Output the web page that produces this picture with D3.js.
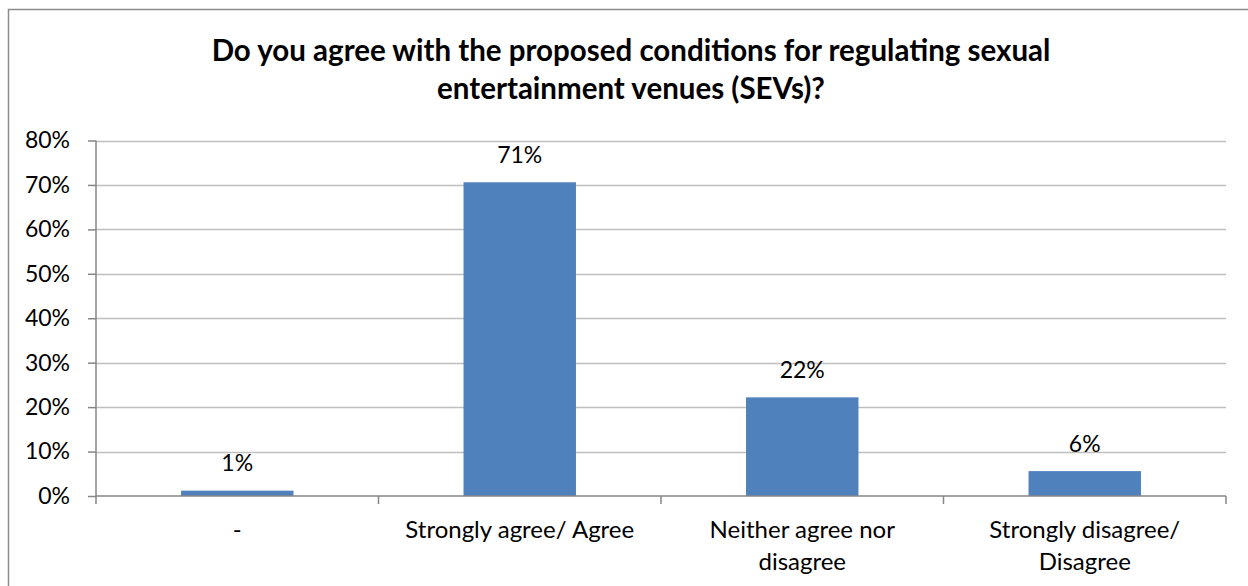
<!DOCTYPE html>
<html><head><meta charset="utf-8">
<script src="https://cdn.jsdelivr.net/npm/d3@7"></script>
<style>body{margin:0;background:#fff}svg{display:block}text{font-family:Lato,"Open Sans",sans-serif}</style>
</head><body>
<svg id="c" width="1248" height="586"></svg>
<script>
const categories = [["-"], ["Strongly agree/ Agree"], ["Neither agree nor", "disagree"], ["Strongly disagree/", "Disagree"]];
const values = [0.012, 0.706, 0.222, 0.056];
const labels = ["1%", "71%", "22%", "6%"];
const yTicks = [0, 0.1, 0.2, 0.3, 0.4, 0.5, 0.6, 0.7, 0.8];
const titleLines = ["Do you agree with the proposed conditions for regulating sexual", "entertainment venues (SEVs)?"];

const svg = d3.select("#c");
svg.append("rect").attr("x", 8.5).attr("y", 9.5).attr("width", 1300).attr("height", 700)
  .attr("fill", "none").attr("stroke", "#8c8c8c").attr("stroke-width", 1.5);

const L = 96, R = 1226, T = 140.5, B = 496;
const x = d3.scaleBand().domain(d3.range(categories.length)).range([L, R]).padding(0);
const y = d3.scaleLinear().domain([0, 0.8]).range([B, T]);

const g = svg.append("g");
g.selectAll("line.grid").data(yTicks.slice(1)).join("line")
  .attr("x1", L).attr("x2", R).attr("y1", d => Math.round(y(d)) + 0.5).attr("y2", d => Math.round(y(d)) + 0.5)
  .attr("stroke", "#bfbfbf").attr("stroke-width", 1.5);

const yAxis = d3.axisLeft(y).tickValues(yTicks).tickFormat(d3.format(".0%")).tickSize(8).tickPadding(18);
const ya = svg.append("g").attr("transform", `translate(${L},0)`).call(yAxis);
ya.selectAll("text").attr("font-size", 23).attr("fill", "#000").attr("font-family", "Lato");
ya.selectAll("path,line").attr("stroke", "#868686").attr("stroke-width", 1.5);
ya.select("path").attr("d", `M0,${T}V${B}`);

const bw = x.bandwidth() * 0.398;
svg.selectAll("rect.bar").data(values).join("rect").attr("class", "bar")
  .attr("x", (d, i) => x(i) + x.bandwidth() / 2 - bw / 2).attr("width", bw)
  .attr("y", d => y(d)).attr("height", d => B - y(d)).attr("fill", "#4f81bd");

const xa = svg.append("g").attr("transform", `translate(0,${B})`)
  .call(d3.axisBottom(x).tickValues([]).tickSize(0));
xa.select("path").attr("stroke", "#868686").attr("stroke-width", 1.5).attr("d", `M${L},0H${R}`);
xa.selectAll("line.sep").data(d3.range(categories.length + 1)).join("line").attr("class", "sep")
  .attr("x1", i => L + i * x.step()).attr("x2", i => L + i * x.step())
  .attr("y1", 0).attr("y2", 8).attr("stroke", "#868686").attr("stroke-width", 1.5);

categories.forEach((lines, i) => {
  const t = svg.append("text").attr("text-anchor", "middle").attr("font-size", 24).attr("fill", "#000");
  lines.forEach((s, k) => t.append("tspan").attr("x", x(i) + x.bandwidth() / 2).attr("y", 538 + k * 32).text(s));
});

svg.selectAll("text.lbl").data(values).join("text").attr("class", "lbl")
  .attr("x", (d, i) => x(i) + x.bandwidth() / 2).attr("y", d => y(d) - 19.5)
  .attr("text-anchor", "middle").attr("font-size", 23).attr("fill", "#000").text((d, i) => labels[i]);

titleLines.forEach((s, k) => svg.append("text").attr("x", 631).attr("y", 61 + k * 38)
  .attr("text-anchor", "middle").attr("font-size", 29.5).attr("font-weight", "bold").attr("fill", "#000").text(s));
</script>
</body></html>
